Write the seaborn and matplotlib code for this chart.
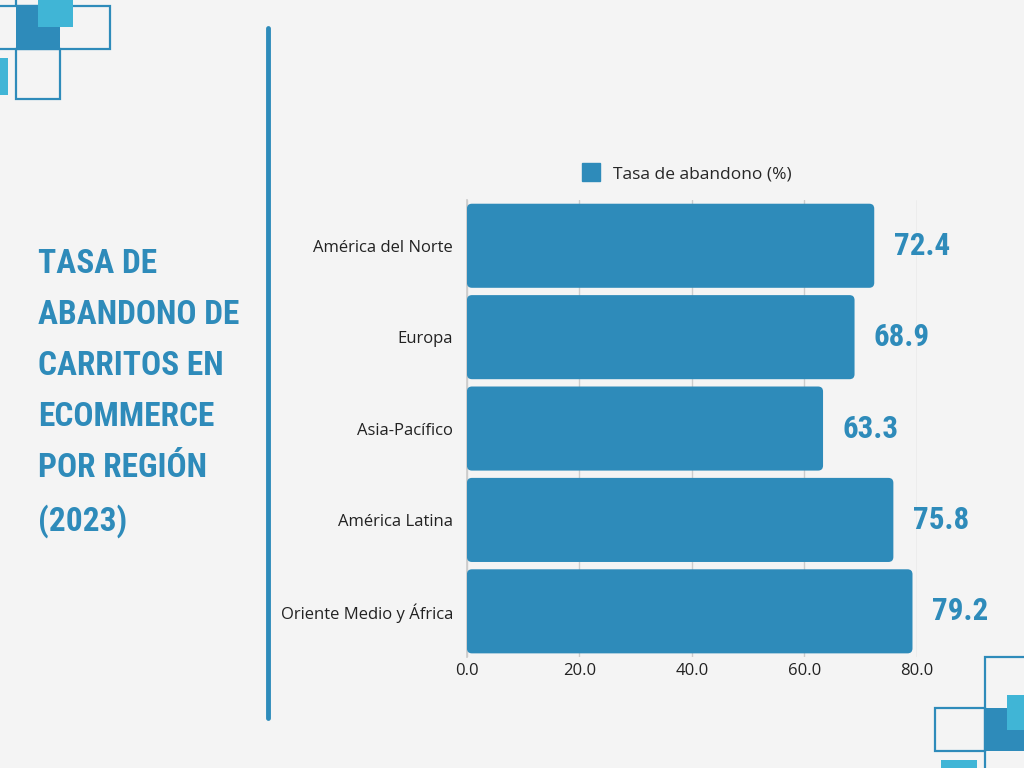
import matplotlib
matplotlib.use("Agg")
import matplotlib.pyplot as plt
from matplotlib.patches import Rectangle, FancyBboxPatch
from matplotlib.lines import Line2D
from matplotlib.textpath import TextPath
from matplotlib import font_manager
import seaborn as sns
import pandas as pd

regions = ["América del Norte", "Europa", "Asia-Pacífico", "América Latina",
           "Oriente Medio y África"]
rates = [72.4, 68.9, 63.3, 75.8, 79.2]
x_ticks = [0, 20, 40, 60, 80]
title = "TASA DE\nABANDONO DE\nCARRITOS EN\nECOMMERCE\nPOR REGIÓN\n(2023)"
legend_label = "Tasa de abandono (%)"

BG = "#F4F4F4"
BLUE = "#2E8BBA"
CYAN = "#40B5D6"

sns.set_theme(style="white")
plt.rcParams["font.family"] = ["Open Sans", "DejaVu Sans"]


# The original uses a tall condensed display face (Anton-like): "ABANDONO DE"
# is ~180 px wide with ~30 px caps. Among the upright condensed/narrow heavy
# faces of the standard families, take the one whose width/cap ratio is closest.
def ink(text, fp):
    return TextPath((0, 0), text, size=100, prop=fp).get_extents()


families = ("noto", "dejavu", "liberation", "roboto", "opensans", "lato", "inter")
heavy = ("bold", "heavy", "black", "extra bold", "700", "800", "900")
best, best_err = None, None
for f in font_manager.fontManager.ttflist:
    name = f.fname.lower().replace("-", "").replace("_", "").replace(" ", "")
    if not any(k in name for k in ("condensed", "narrow")):
        continue
    if "mono" in name or not any(k in name for k in families):
        continue
    if f.style != "normal" or "italic" in name or "oblique" in name:
        continue
    if str(f.weight).lower() not in heavy:
        continue
    try:
        fp = font_manager.FontProperties(fname=f.fname)
        ratio = ink("ABANDONO DE", fp).width / ink("H", fp).height
    except Exception:
        continue
    err = abs(ratio - 6.0)
    if best_err is None or err < best_err:
        best, best_err = fp, err
head_fp = best if best is not None else font_manager.FontProperties(
    family="Roboto", weight="bold")
cap_ratio = ink("H", head_fp).height / 100  # cap height per unit of size


def size_for(cap_px, text, max_w):
    px = cap_px / cap_ratio
    w = ink(text, head_fp).width / 100 * px
    if w > max_w:
        px *= max_w / w
    return px * 72 / 100


df = pd.DataFrame({"region": regions, "rate": rates})

fig = plt.figure(figsize=(10.24, 7.68), dpi=100, facecolor=BG)
ax = fig.add_axes([0.456, 0.1445, 0.4395, 0.595])
ax.set_facecolor(BG)

sns.barplot(data=df, x="rate", y="region", color=BLUE, saturation=1,
            width=0.92, ax=ax, zorder=3)

ax.set_xlim(0, 80)
ax.set_ylim(4.5, -0.5)

# swap the square bars for slightly rounded ones
x_per_px = 80 / (0.4395 * 1024)
y_per_px = 5 / (0.595 * 768)
for p in list(ax.patches):
    x0, y0, w, h = p.get_x(), p.get_y(), p.get_width(), p.get_height()
    p.remove()
    ax.add_patch(FancyBboxPatch((x0, y0), w, h,
                                boxstyle=f"round,pad=0,rounding_size={5 * x_per_px}",
                                mutation_aspect=y_per_px / x_per_px,
                                facecolor=BLUE, edgecolor="none", zorder=3))

ax.set_xticks(x_ticks)
ax.set_xticklabels([f"{t:.1f}" for t in x_ticks], fontsize=12, color="#222222")
ax.set_xlabel("")
ax.set_ylabel("")
ax.tick_params(axis="y", labelsize=12, colors="#222222", length=0, pad=10)
ax.tick_params(axis="x", length=0, pad=4)
ax.grid(axis="x", color="#CCCCCC", linewidth=1, zorder=0)
for s in ["top", "right", "bottom"]:
    ax.spines[s].set_visible(False)
ax.spines["left"].set_color("#CCCCCC")

handle = Rectangle((0, 0), 1, 1, color=BLUE)
fig.legend([handle], [legend_label], loc="center", bbox_to_anchor=(0.671, 0.775),
           frameon=False, fontsize=12.5, handlelength=1.0, handleheight=1.2,
           handletextpad=0.8)

renderer = fig.canvas.get_renderer()

# value labels: ~24 px tall digits, "72.4" no wider than ~54 px
label_fp = head_fp.copy()
label_fp.set_size(size_for(24, "72.4", 54))
for i, v in enumerate(rates):
    ax.annotate(f"{v}", (v, i), xytext=(14, 0), textcoords="offset points",
                ha="left", va="center", fontproperties=label_fp, color=BLUE)

# title block: ~30 px caps, widest line <= 200 px, first baseline at y=273 px,
# baseline pitch ~51 px (matplotlib pitch = descent + linespacing * ascent)
title_fp = head_fp.copy()
title_fp.set_size(size_for(30, "ABANDONO DE", 200))
_, lp_h, lp_d = renderer.get_text_width_height_descent("lp", title_fp, ismath=False)
ascent = lp_h - lp_d
fig.text(0.037, 1 - (273 - ascent) / 768, title, ha="left", va="top",
         fontproperties=title_fp, color=BLUE, linespacing=(51 - lp_d) / ascent)

# vertical divider
fig.add_artist(Line2D([268 / 1024, 268 / 1024], [1 - 28 / 768, 1 - 718 / 768],
                      color=BLUE, linewidth=3.5))


def box(x0, y0, x1, y1, fill=None, edge=None):
    r = Rectangle((x0 / 1024, 1 - y1 / 768), (x1 - x0) / 1024, (y1 - y0) / 768,
                  transform=fig.transFigure, facecolor=fill or "none",
                  edgecolor=edge or "none", linewidth=1.6)
    fig.add_artist(r)


# top-left decoration
box(-5, 6, 110, 49, edge=BLUE)
box(16, -5, 60, 6, edge=BLUE)
box(16, 6, 60, 49, fill=BLUE)
box(38, -2, 73, 27, fill=CYAN)
box(16, 49, 60, 99, edge=BLUE)
box(-2, 58, 8, 95, fill=CYAN)

# bottom-right decoration
box(985, 657, 1030, 775, edge=BLUE)
box(935, 708, 985, 751, edge=BLUE)
box(985, 708, 1030, 751, fill=BLUE)
box(1007, 695, 1030, 730, fill=CYAN)
box(941, 760, 977, 775, fill=CYAN)

fig.savefig("out.png", dpi=100, facecolor=BG)
